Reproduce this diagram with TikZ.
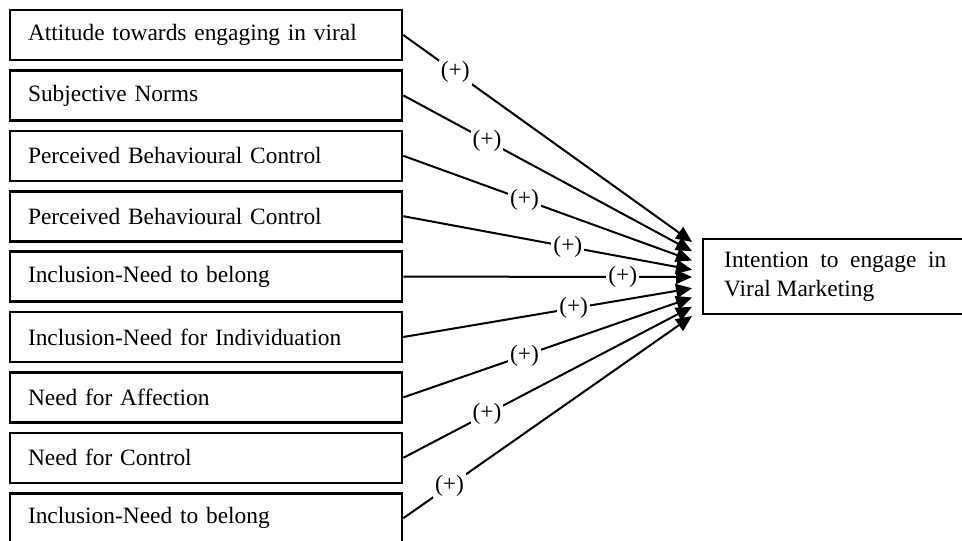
\documentclass[tikz,border=0pt]{standalone}
\usepackage{fontspec}
\setmainfont{Liberation Serif}
\usetikzlibrary{arrows.meta}

\tikzset{
  factor/.style={draw, line width=1.3pt, minimum width=196pt, minimum height=25pt,
    text width=178pt, inner xsep=9pt, align=left},
  outcome/.style={draw, line width=1.2pt, anchor=west, minimum height=37.5pt,
    text width=111pt, inner xsep=10.5pt, align=justify},
  link/.style={line width=1pt, -{Triangle[length=8pt,width=7pt]}},
  sign/.style={fill=white, inner sep=1pt}
}

\begin{document}
\begin{tikzpicture}[x=0.5pt,y=-0.5pt,font=\fontsize{11.7}{14.5}\selectfont]
\useasboundingbox (0,0) rectangle (962,540);
% predictors
\node[factor] (att) at (206,35) {Attitude towards engaging in viral};
\node[factor] (sn) at (206,95.4) {Subjective Norms};
\node[factor] (pbc) at (206,155.8) {Perceived Behavioural Control};
\node[factor] (pbcb) at (206,216.2) {Perceived Behavioural Control};
\node[factor] (inb) at (206,276.6) {Inclusion-Need to belong};
\node[factor] (ini) at (206,337) {Inclusion-Need for Individuation};
\node[factor] (aff) at (206,397.4) {Need for Affection};
\node[factor] (ctl) at (206,457.8) {Need for Control};
\node[factor] (inbb) at (206,518.2) {Inclusion-Need to belong};
% outcome
\node[outcome] (int) at (702,276.5) {Intention to engage in Viral Marketing};
% arrow ends
\coordinate (e1) at (692,242);
\coordinate (e2) at (692,251.25);
\coordinate (e3) at (692,260.5);
\coordinate (e4) at (692,269.75);
\coordinate (e5) at (692,277);
\coordinate (e6) at (692,288.25);
\coordinate (e7) at (692,297.5);
\coordinate (e8) at (692,306.75);
\coordinate (e9) at (692,316);
\draw[link] (att.east) -- node[sign,pos=0.18] {(+)} (e1);
\draw[link] (sn.east) -- node[sign,pos=0.29] {(+)} (e2);
\draw[link] (pbc.east) -- node[sign,pos=0.42] {(+)} (e3);
\draw[link] (pbcb.east) -- node[sign,pos=0.57] {(+)} (e4);
\draw[link] (inb.east) -- node[sign,pos=0.76] {(+)} (e5);
\draw[link] (ini.east) -- node[sign,pos=0.59] {(+)} (e6);
\draw[link] (aff.east) -- node[sign,pos=0.42] {(+)} (e7);
\draw[link] (ctl.east) -- node[sign,pos=0.29] {(+)} (e8);
\draw[link] (inbb.east) -- node[sign,pos=0.16] {(+)} (e9);
\end{tikzpicture}
\end{document}
